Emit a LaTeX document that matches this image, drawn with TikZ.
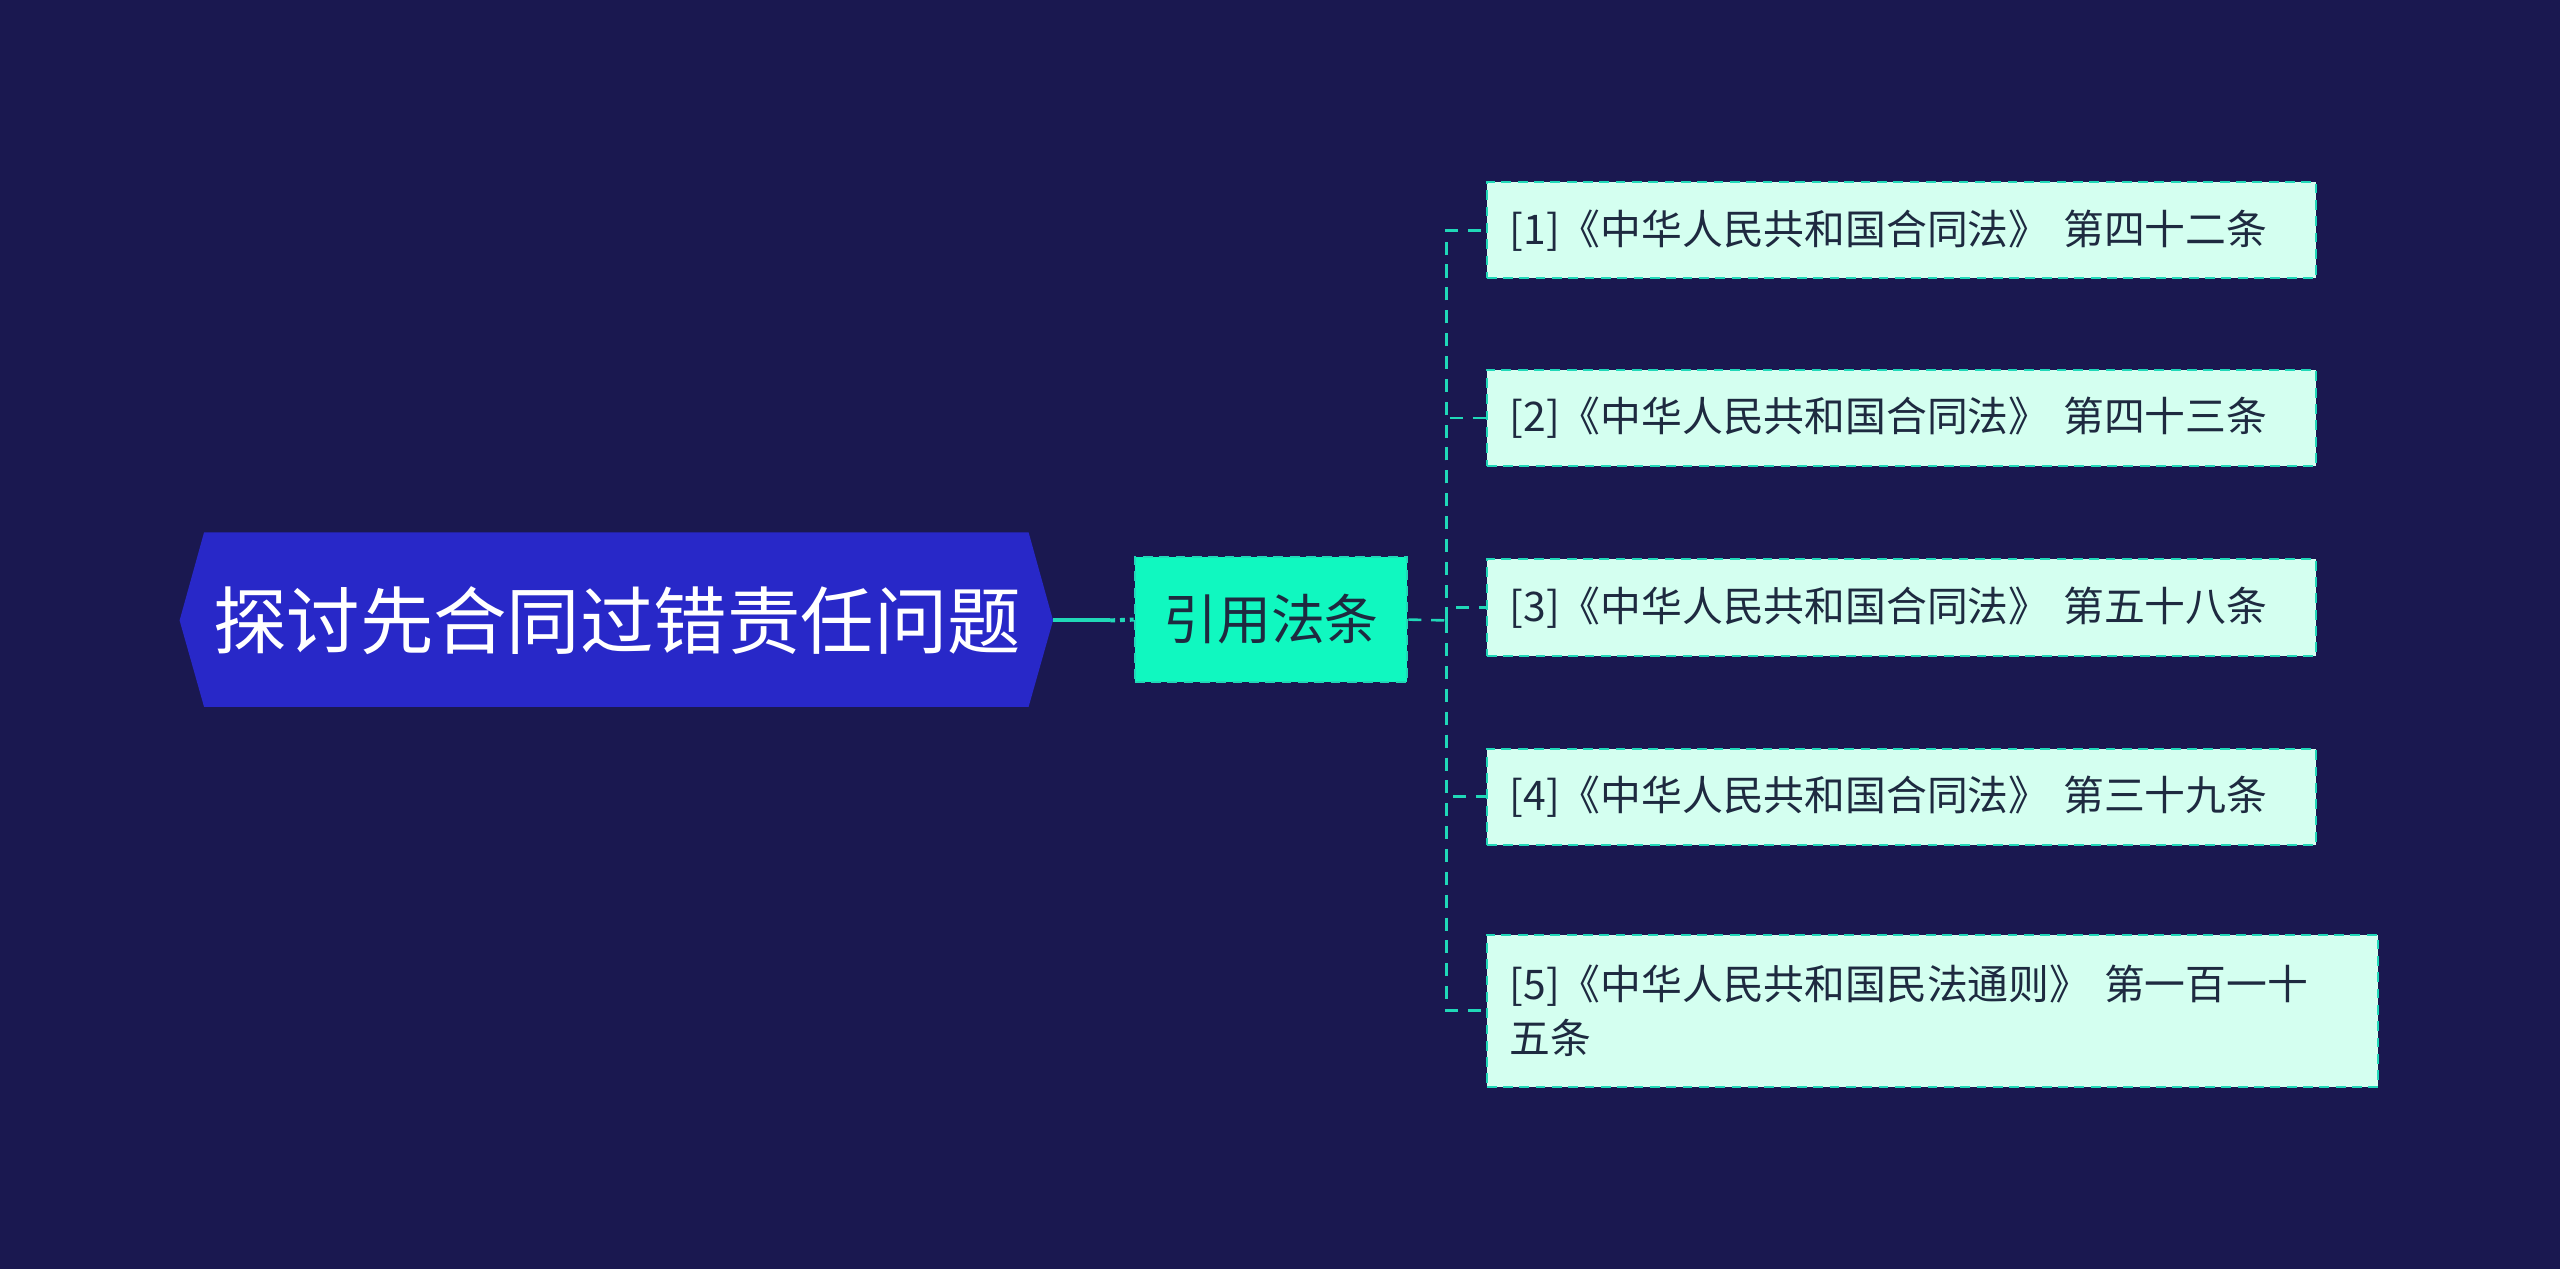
\documentclass[tikz,border=0pt]{standalone}
\usepackage{fontspec}
\setmainfont{Noto Sans CJK SC}
\usetikzlibrary{shapes.geometric}
\definecolor{bg}{HTML}{1A1850}
\definecolor{rootc}{HTML}{2828C8}
\definecolor{mid}{HTML}{10F8C0}
\definecolor{leaf}{HTML}{D4FFF0}
\definecolor{line}{HTML}{20D8B8}
\definecolor{txt}{HTML}{1E2A40}
\tikzset{
 leafbox/.style={draw=line, dashed, dash pattern=on 6pt off 4pt, line width=1.2pt, fill=leaf, text=txt, font=\fontsize{25}{32}\selectfont, anchor=west, inner xsep=14pt, align=left},
 conn/.style={draw=line, line width=1.6pt, dashed, dash pattern=on 8pt off 6pt}
}
\begin{document}
\begin{tikzpicture}[x=1pt,y=-1pt]
\fill[bg] (0,0) rectangle (1568,777);
\useasboundingbox (0,0) rectangle (1568,777);
\fill[rootc] (110,380) -- (125,326) -- (630,326) -- (645,380) -- (630,433) -- (125,433) -- cycle;
\node[text=white, font=\fontsize{45}{50}\selectfont] (root) at (378,380) {探讨先合同过错责任问题};
\coordinate (rootE) at (645,380);
\node[draw=line, dashed, dash pattern=on 6pt off 4pt, line width=1.2pt, fill=mid, text=txt, font=\fontsize{33}{38}\selectfont, minimum width=167pt, minimum height=77pt, inner sep=0pt] (mid) at (778.5,379.5) {引用法条};
\draw[line, line width=2.5pt] (rootE) -- (680,380);
\draw[line, line width=2.5pt, dashed] (680,380) -- (mid.west);
\node[leafbox, text width=480pt, minimum height=59pt] (l1) at (910,141) {[1]《中华人民共和国合同法》 第四十二条};
\node[leafbox, text width=480pt, minimum height=59pt] (l2) at (910,256) {[2]《中华人民共和国合同法》 第四十三条};
\node[leafbox, text width=480pt, minimum height=59pt] (l3) at (910,372) {[3]《中华人民共和国合同法》 第五十八条};
\node[leafbox, text width=480pt, minimum height=59pt] (l4) at (910,488) {[4]《中华人民共和国合同法》 第三十九条};
\node[leafbox, text width=518pt, minimum height=93pt, font=\fontsize{25}{33}\selectfont] (l5) at (910,619) {[5]《中华人民共和国民法通则》 第一百一十\\五条};
\coordinate (bus) at (886,380);
\draw[conn] (mid.east) -- (bus);
\foreach \n in {l1,l2,l3,l4,l5}{
 \draw[conn] (bus) |- (\n.west);
}
\end{tikzpicture}
\end{document}
